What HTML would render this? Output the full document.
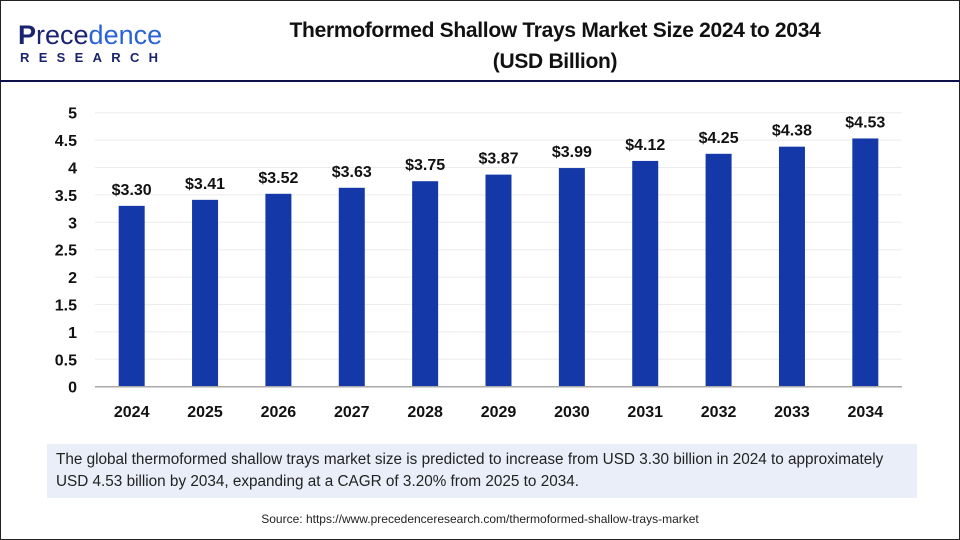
<!DOCTYPE html>
<html><head><meta charset="utf-8"><style>
body{margin:0;width:960px;height:540px;overflow:hidden;background:#fff;font-family:"Liberation Sans",Arial,sans-serif;}
#frame{position:absolute;left:0;top:0;width:958px;height:538px;border:1px solid #222;}
#logo1{position:absolute;left:18px;top:20px;font-size:27px;color:#1a2370;letter-spacing:0px;}
#logo1 span{color:#2a63d6}
#logo2{position:absolute;left:20px;top:50px;font-size:13px;font-weight:bold;color:#1a2370;letter-spacing:9.3px;}
#title{position:absolute;left:215px;top:15px;width:680px;text-align:center;font-size:21px;font-weight:bold;color:#111;line-height:31px;letter-spacing:-0.3px;}
#hline{position:absolute;left:0;top:80px;width:960px;height:2px;background:#10104a;}
#note{position:absolute;left:47px;top:444px;width:852px;height:44px;background:#e9eef8;padding:5px 9px;font-size:15.3px;line-height:22px;color:#222;white-space:nowrap;}
#src{position:absolute;left:0;top:512px;width:960px;text-align:center;font-size:12px;color:#222;}
</style></head><body>
<div id="frame"></div>
<div id="logo1"><b>P</b>rece<span>dence</span></div>
<div id="logo2">RESEARCH</div>
<div id="title">Thermoformed Shallow Trays Market Size 2024 to 2034<br>(USD Billion)</div>
<div id="hline"></div>
<svg id="chart" width="960" height="540" style="position:absolute;left:0;top:0"></svg>
<div id="note">The global thermoformed shallow trays market size is predicted to increase from USD 3.30 billion in 2024 to approximately<br>USD 4.53 billion by 2034, expanding at a CAGR of 3.20% from 2025 to 2034.</div>
<div id="src">Source: https://www.precedenceresearch.com/thermoformed-shallow-trays-market</div>
<script>
const categories=["2024","2025","2026","2027","2028","2029","2030","2031","2032","2033","2034"];
const values=[3.30,3.41,3.52,3.63,3.75,3.87,3.99,4.12,4.25,4.38,4.53];
const valueLabels=["$3.30","$3.41","$3.52","$3.63","$3.75","$3.87","$3.99","$4.12","$4.25","$4.38","$4.53"];
const yTicks=[0,0.5,1,1.5,2,2.5,3,3.5,4,4.5,5];
const NS="http://www.w3.org/2000/svg";
const svg=document.getElementById('chart');
const L=95,R=902,Y0=386.7,Y5=112.7,YMAX=5;
const y=v=>Y0-(v/YMAX)*(Y0-Y5);
const band=(R-L)/categories.length;
const x=i=>L+band*(i+0.5);
function mk(t,a,txt){const e=document.createElementNS(NS,t);for(const k in a)e.setAttribute(k,a[k]);if(txt!==undefined)e.textContent=txt;svg.appendChild(e);return e;}
yTicks.forEach(t=>{
  if(t>0){const g=mk('line',{x1:L,x2:R,y1:y(t),y2:y(t),stroke:'#ececec','stroke-width':1});
  
  }
  const l=mk('text',{x:77,y:y(t)+6,'text-anchor':'end','font-size':16,'font-weight':'bold',fill:'#111'},String(t));
  
  
});
categories.forEach((c,i)=>{
  const b=mk('rect',{x:x(i)-13,y:y(values[i]),width:26,height:Y0-y(values[i]),fill:'#1538a8'});
  
  
  const v=mk('text',{x:x(i),y:y(values[i])-11,'text-anchor':'middle','font-size':16,'font-weight':'bold',fill:'#111'},valueLabels[i]);
  
  
  const t=mk('text',{x:x(i),y:417,'text-anchor':'middle','font-size':16,'font-weight':'bold',fill:'#111'},c);
  
  
});
const ax=mk('line',{x1:L,x2:R,y1:Y0,y2:Y0,stroke:'#aaa','stroke-width':1.5});


</script>
</body></html>
